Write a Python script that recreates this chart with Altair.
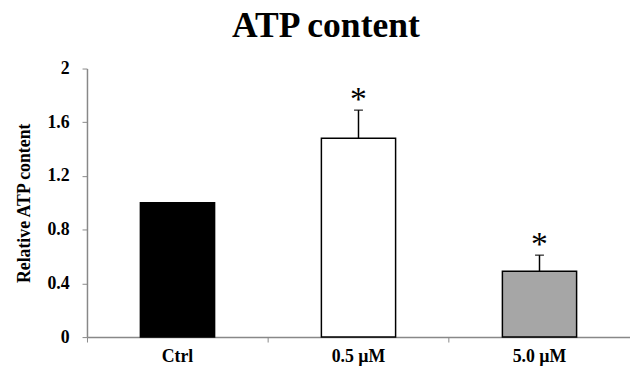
import altair as alt
import pandas as pd

categories = ["Ctrl", "0.5 µM", "5.0 µM"]
values = [1.0, 1.48, 0.49]
errors = [0.0, 0.21, 0.12]
stars = ["", "*", "*"]
fills = ["#000000", "#ffffff", "#a6a6a6"]

df = pd.DataFrame({
    "cat": categories,
    "val": values,
    "err": errors,
    "star": stars,
    "fill": fills,
})
df["top"] = df["val"] + df["err"]

serif = "Liberation Serif"

x = alt.X("cat:N", sort=categories, title=None,
          scale=alt.Scale(paddingInner=0, paddingOuter=0),
          axis=alt.Axis(labelAngle=0, bandPosition=0, labelFont=serif, labelFontSize=18,
                        labelFontWeight="bold", labelColor="#000", domainColor="#888",
                        tickColor="#888", tickSize=5, labelPadding=6, domainWidth=1.5))
y = alt.Y("val:Q", title="Relative ATP content",
          scale=alt.Scale(domain=[0, 2], nice=False),
          axis=alt.Axis(values=[0, 0.4, 0.8, 1.2, 1.6, 2], format=".1~f", grid=False,
                        labelFont=serif, labelFontSize=18, labelFontWeight="bold",
                        labelColor="#000", titleFont=serif, titleFontSize=18,
                        titleFontWeight="bold", titleColor="#000", domainColor="#888",
                        tickColor="#888", tickSize=5, labelPadding=13, titlePadding=14,
                        domainWidth=1.5))

base = alt.Chart(df)

bars = base.mark_bar(width=alt.RelativeBandSize(0.41), stroke="#000", strokeWidth=1.5).encode(
    x=x, y=y, fill=alt.Fill("fill:N", scale=None))

err = base.transform_filter("datum.err > 0").mark_rule(color="#000", strokeWidth=1.5).encode(
    x=alt.X("cat:N", sort=categories), y="val:Q", y2="top:Q")

caps = base.transform_filter("datum.err > 0").mark_tick(color="#000", thickness=1.5, size=9,
                                                        orient="horizontal").encode(
    x=alt.X("cat:N", sort=categories), y="top:Q")

star_text = base.transform_filter("datum.err > 0").mark_text(
    font=serif, fontSize=34, fontWeight="normal", baseline="alphabetic", dy=0, color="#000").encode(
    x=alt.X("cat:N", sort=categories), y="top:Q", text="star:N")

chart = alt.layer(bars, err, caps, star_text).properties(
    width=550, height=272,
    autosize=alt.AutoSizeParams(type="none"),
    padding={"left": 80, "right": 0, "top": 59, "bottom": 30},
    title=alt.TitleParams("ATP content", font=serif, fontSize=36, fontWeight="bold",
                          color="#000", anchor="middle", frame="group", dx=-33, offset=15),
).configure_view(stroke=None)

chart.save("out.html", embed_options={"renderer": "svg", "actions": False})
